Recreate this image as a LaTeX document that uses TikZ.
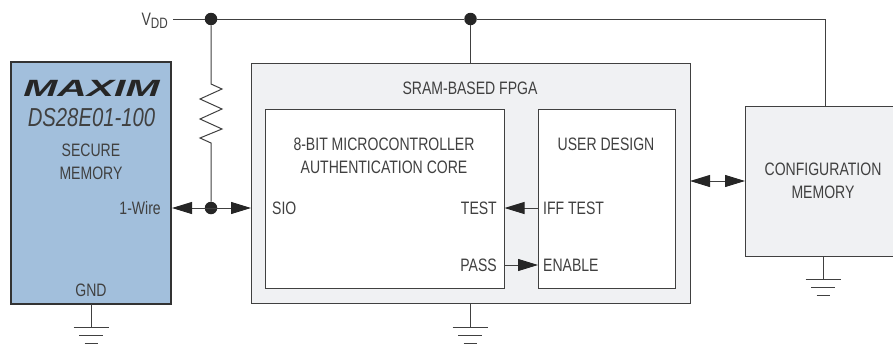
\documentclass[tikz,border=0pt]{standalone}
\usepackage{fontspec}
\setmainfont{Liberation Sans}[FakeStretch=0.78]
\newfontfamily\logofont{Liberation Sans}[FakeStretch=1.74]
\usetikzlibrary{arrows.meta}
\definecolor{ink}{gray}{0.25}
\definecolor{wire}{gray}{0.25}
\definecolor{bluefill}{HTML}{A2BFDC}
\definecolor{panel}{HTML}{F0F1F3}
\tikzset{
 wireline/.style={draw=wire,line width=1pt},
 boxbase/.style={rectangle,inner sep=0pt,outer sep=0pt,draw=wire,line width=1pt},
 boxpanel/.style={boxbase,fill=panel},
 boxwhite/.style={boxbase,fill=white},
 boxblue/.style={boxbase,draw=black!80,line width=2pt,fill=bluefill},
 lbl/.style={text=ink,font=\fontsize{18}{23}\selectfont,inner sep=0pt,align=center},
 dotnode/.style={circle,fill=black!85,inner sep=0pt,minimum size=12.5pt},
 arrowboth/.style={wireline,{Triangle[length=20pt,width=12pt,black!85]}-{Triangle[length=20pt,width=12pt,black!85]}},
 arrowto/.style={wireline,-{Triangle[length=20pt,width=12pt,black!85]}},
}
\begin{document}
\begin{tikzpicture}[x=1pt,y=-1pt]
\useasboundingbox (0,0) rectangle (893,343);
% boxes
\node[boxblue,minimum width=160pt,minimum height=242pt] (ds) at (91,183) {};
\node[boxpanel,minimum width=439pt,minimum height=240pt] (fpga) at (470.5,183) {};
\node[boxwhite,minimum width=239pt,minimum height=179pt] (corebox) at (384.5,198.5) {};
\node[boxwhite,minimum width=137pt,minimum height=179pt] (userbox) at (606.5,198.5) {};
\node[boxpanel,minimum width=150pt,minimum height=150pt] (cfg) at (820,181) {};
\coordinate (dsE) at (172,208); \coordinate (fpW) at (251,208);
\coordinate (fpN) at (470.5,63); \coordinate (cfN) at (825,106);
% supply
\node[lbl,anchor=base east] (vdd) at (168,25) {V\raisebox{-3pt}{\fontsize{15}{15}\selectfont DD}};
\node[dotnode] (d1) at (211,19) {};
\node[dotnode] (d2) at (470.5,19) {};
\node[dotnode] (d3) at (211,208) {};
\coordinate (vs) at (173,19);
\coordinate (vc) at (825,19);
\draw[wireline] (vs) -- (d1) -- (d2) -- (vc) -- (cfN);
\draw[wireline] (d2) -- (fpN);
\draw[wireline] (d1) -- (211,84) -- (222,89) -- (200,99) -- (222,109) -- (200,119) -- (222,129) -- (200,138) -- (211,143) -- (d3);
% arrows
\draw[arrowboth] (dsE) -- (fpW);
\draw[arrowboth] (fpga.east |- cfg.west) -- (cfg.west);
\coordinate (tL) at (504.5,208); \coordinate (tR) at (538,208);
\draw[arrowto] (tR) -- (tL);
\coordinate (pL) at (504,265); \coordinate (pR) at (538,265);
\draw[arrowto] (pL) -- (pR);
% grounds
\foreach \x/\y in {91/304,470/304,823/256}{
 \draw[wireline] (\x,\y) -- (\x,\y+23.5);
 \draw[wireline] (\x-17.5,\y+23.5) -- (\x+17.5,\y+23.5);
 \draw[wireline] (\x-12,\y+31.5) -- (\x+12,\y+31.5);
 \draw[wireline] (\x-6.5,\y+39.5) -- (\x+6.5,\y+39.5);
}
% text
\node[inner sep=0pt,text=black!85] (logo) at (91.5,88.5) {\logofont\fontsize{23.5}{26}\selectfont\bfseries\itshape MAXIM};
\node[lbl] (part) at (91.5,118) {\fontsize{26}{28}\selectfont\itshape DS28E01-100};
\node[lbl] (sec) at (91,161.5) {SECURE\\MEMORY};
\node[lbl,anchor=east] (w1) at (161,208) {1-Wire};
\node[lbl] (gnd) at (91,290) {GND};
\node[lbl] (fp) at (470,88) {SRAM-BASED FPGA};
\node[lbl] (core) at (384,156) {8-BIT MICROCONTROLLER\\AUTHENTICATION CORE};
\node[lbl,anchor=west] (sio) at (272,208) {SIO};
\node[lbl,anchor=east] (test) at (497,208) {TEST};
\node[lbl,anchor=east] (pass) at (497,265) {PASS};
\node[lbl] (ud) at (606,144) {USER DESIGN};
\node[lbl,anchor=west] (iff) at (543,208) {IFF TEST};
\node[lbl,anchor=west] (en) at (543,265) {ENABLE};
\node[lbl] (cm) at (823,181) {CONFIGURATION\\MEMORY};
\end{tikzpicture}
\end{document}
